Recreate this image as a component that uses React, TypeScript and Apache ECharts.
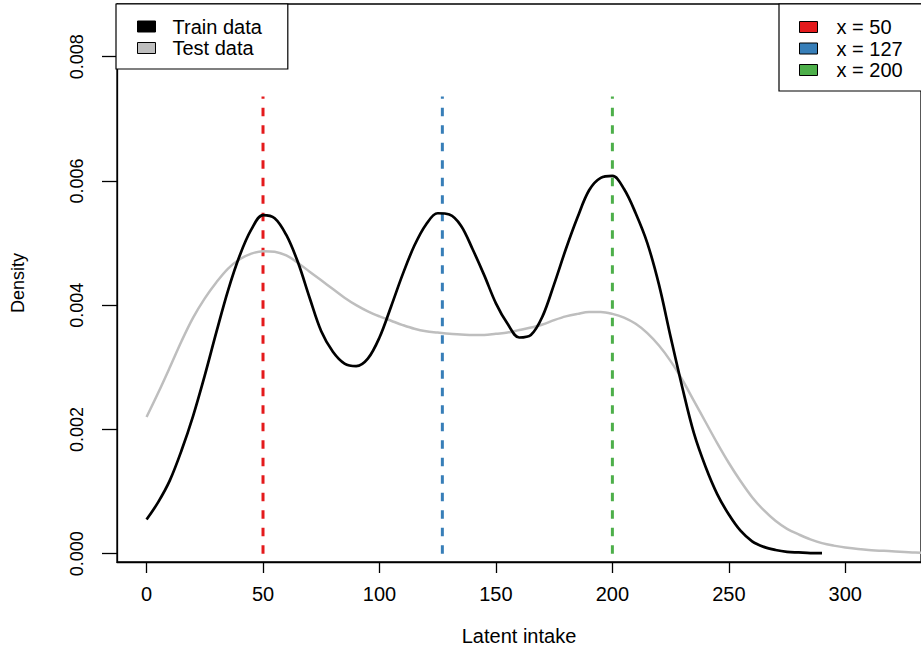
import React, { useEffect, useRef } from "react";
import * as echarts from "echarts";

// Train data density (black)
const trainX = [0, 5, 10, 15, 20, 25, 30, 35, 40, 45, 50, 55, 60, 65, 70, 75, 80, 85, 90, 95, 100, 105, 110, 115, 120, 125, 130, 135, 140, 145, 150, 155, 160, 165, 170, 175, 180, 185, 190, 195, 200, 205, 210, 215, 220, 225, 230, 235, 240, 245, 250, 255, 260, 265, 270, 275, 280, 285, 290];
const trainDensity = [0.00055, 0.00083, 0.00118, 0.00166, 0.00222, 0.00287, 0.00357, 0.00424, 0.0048, 0.00522, 0.00545, 0.0054, 0.00513, 0.00469, 0.00412, 0.00358, 0.00325, 0.00306, 0.00302, 0.00314, 0.00348, 0.00398, 0.0045, 0.00496, 0.0053, 0.00548, 0.00546, 0.00528, 0.0049, 0.00448, 0.00403, 0.0037, 0.00348, 0.00352, 0.00382, 0.00434, 0.0049, 0.00541, 0.00585, 0.00605, 0.00608, 0.00587, 0.00548, 0.005, 0.00433, 0.00349, 0.00268, 0.00194, 0.0014, 0.00096, 0.00063, 0.00037, 0.0002, 0.00011, 0.00006, 0.00003, 0.00002, 0.00001, 0.00001];

// Test data density (grey)
const testX = [0, 5, 10, 15, 20, 25, 30, 35, 40, 45, 50, 55, 60, 65, 70, 75, 80, 85, 90, 95, 100, 105, 110, 115, 120, 125, 130, 135, 140, 145, 150, 155, 160, 165, 170, 175, 180, 185, 190, 195, 200, 205, 210, 215, 220, 225, 230, 235, 240, 245, 250, 255, 260, 265, 270, 275, 280, 285, 290, 295, 300, 310, 320, 330, 340];
const testDensity = [0.0022, 0.00259, 0.003, 0.00342, 0.0038, 0.00411, 0.00437, 0.00459, 0.00474, 0.00483, 0.00487, 0.00486, 0.0048, 0.00468, 0.00454, 0.0044, 0.00426, 0.00412, 0.004, 0.0039, 0.00382, 0.00375, 0.00368, 0.00362, 0.00358, 0.00356, 0.00354, 0.00353, 0.00352, 0.00352, 0.00354, 0.00356, 0.0036, 0.00364, 0.00369, 0.00376, 0.00382, 0.00386, 0.00389, 0.00389, 0.00386, 0.0038, 0.0037, 0.00355, 0.00335, 0.0031, 0.0028, 0.00246, 0.00212, 0.00178, 0.00146, 0.00117, 0.00091, 0.0007, 0.00053, 0.0004, 0.00031, 0.00023, 0.00017, 0.00013, 0.0001, 0.00006, 0.00004, 0.00002, 0.00001];

// Reference lines
const refNames = ["x = 50", "x = 127", "x = 200"];
const refValues = [50, 127, 200];
const refColors = ["#E41A1C", "#377EB8", "#4DAF4A"];
const refTop = 0.00736;

const xTicks = [0, 50, 100, 150, 200, 250, 300];
const yTicks = [0, 0.002, 0.004, 0.006, 0.008];

const FONT = "Liberation Sans, Arial, Helvetica, sans-serif";

export default function App() {
  const ref = useRef<HTMLDivElement>(null);
  useEffect(() => {
    if (!ref.current) return;
    const chart = echarts.init(ref.current, null, { renderer: "svg" });
    const trainData = trainX.map((x, i) => [x, trainDensity[i]]);
    const testData = testX.map((x, i) => [x, testDensity[i]]);
    const refSeries = refValues.map((v, i) => ({
      name: refNames[i],
      type: "line",
      data: [[v, 0], [v, refTop]],
      showSymbol: false,
      symbol: "none",
      color: refColors[i],
      lineStyle: { color: refColors[i], width: 3, type: [8.5, 9] },
      z: 1,
    }));
    chart.setOption({
      animation: false,
      backgroundColor: "#ffffff",
      textStyle: { fontFamily: FONT, color: "#000" },
      grid: {
        left: 117,
        top: 4,
        right: -4,
        bottom: 93,
        show: true,
        borderColor: "#000",
        borderWidth: 1.3,
        backgroundColor: "transparent",
      },
      xAxis: {
        type: "value",
        min: -12.69,
        max: 332.5,
        name: "Latent intake",
        nameLocation: "middle",
        nameGap: 64,
        nameTextStyle: { fontSize: 20, color: "#000", fontFamily: FONT },
        axisLine: { show: true, onZero: false, lineStyle: { color: "#000", width: 1.3 } },
        axisTick: { show: true, length: 11, customValues: xTicks, lineStyle: { color: "#000", width: 1.3 } },
        axisLabel: { customValues: xTicks, fontSize: 20, margin: 22, color: "#000", fontFamily: FONT },
        splitLine: { show: false },
      },
      yAxis: {
        type: "value",
        min: -0.0001336,
        max: 0.008848,
        name: "Density",
        nameLocation: "middle",
        nameGap: 90,
        nameRotate: 90,
        nameTextStyle: { fontSize: 18, color: "#000", fontFamily: FONT },
        axisLine: { show: true, onZero: false, lineStyle: { color: "#000", width: 1.3 } },
        axisTick: { show: true, length: 15, customValues: yTicks, lineStyle: { color: "#000", width: 1.3 } },
        axisLabel: {
          customValues: yTicks,
          fontSize: 18,
          rotate: 90,
          margin: 31,
          color: "#000",
          fontFamily: FONT,
          formatter: (v: number) => v.toFixed(3),
        },
        splitLine: { show: false },
      },
      legend: [
        {
          left: 116,
          top: 4,
          orient: "vertical",
          icon: "rect",
          itemWidth: 18,
          itemHeight: 11,
          itemGap: 1.5,
          padding: [12.5, 26, 11, 21],
          backgroundColor: "#fff",
          borderColor: "#000",
          borderWidth: 1.2,
          borderRadius: 0,
          selectedMode: false,
          textStyle: { fontSize: 20, color: "#000", fontFamily: FONT, padding: [0, 0, 0, 12] },
          itemStyle: { borderColor: "#000", borderWidth: 1, borderType: "solid" },
          data: [
            { name: "Train data", itemStyle: { color: "#000000" } },
            { name: "Test data", itemStyle: { color: "#BEBEBE" } },
          ],
        },
        {
          left: 779,
          top: 4,
          orient: "vertical",
          icon: "rect",
          itemWidth: 18,
          itemHeight: 11,
          itemGap: 1.5,
          padding: [13, 40, 11, 20],
          backgroundColor: "#fff",
          borderColor: "#000",
          borderWidth: 1.2,
          borderRadius: 0,
          selectedMode: false,
          textStyle: { fontSize: 20, color: "#000", fontFamily: FONT, padding: [0, 0, 0, 14] },
          itemStyle: { borderColor: "#000", borderWidth: 1, borderType: "solid" },
          data: refNames.map((n, i) => ({ name: n, itemStyle: { color: refColors[i] } })),
        },
      ],
      series: [
        {
          name: "Test data",
          type: "line",
          data: testData,
          smooth: 0.35,
          showSymbol: false,
          symbol: "none",
          color: "#BEBEBE",
          lineStyle: { color: "#BEBEBE", width: 2.5 },
          clip: true,
          z: 2,
        },
        {
          name: "Train data",
          type: "line",
          data: trainData,
          smooth: 0.35,
          showSymbol: false,
          symbol: "none",
          color: "#000000",
          lineStyle: { color: "#000000", width: 2.7 },
          clip: true,
          z: 3,
        },
        ...refSeries,
      ],
    });
    return () => chart.dispose();
  }, []);
  return (
    <div
      ref={ref}
      style={{ position: "absolute", left: 0, top: 0, width: 921, height: 655, background: "#fff" }}
    />
  );
}
